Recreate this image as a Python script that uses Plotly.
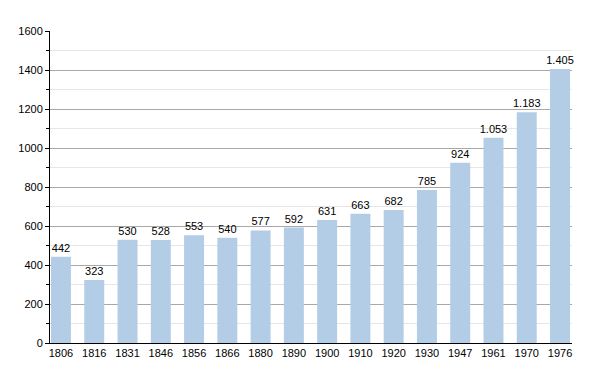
import plotly.graph_objects as go

years = ["1806", "1816", "1831", "1846", "1856", "1866", "1880", "1890",
         "1900", "1910", "1920", "1930", "1947", "1961", "1970", "1976"]
population = [442, 323, 530, 528, 553, 540, 577, 592,
              631, 663, 682, 785, 924, 1053, 1183, 1405]

fig = go.Figure(go.Bar(
    x=years, y=population,
    marker=dict(color="#b3cde6", line=dict(width=0)),
    width=0.6,
    texttemplate="%{y:,d}", textposition="outside",
    textfont=dict(family="Liberation Sans, Arial, sans-serif", size=11, color="#000"),
    cliponaxis=False,
    constraintext="none",
))

fig.update_layout(
    width=592, height=365,
    margin=dict(l=42, r=28, t=23, b=30, autoexpand=False),
    plot_bgcolor="white", paper_bgcolor="white",
    separators=",.",
    uniformtext=dict(minsize=11, mode="show"),
    font=dict(family="Liberation Sans, Arial, sans-serif", size=11, color="#000"),
    showlegend=False,
    xaxis=dict(type="category", range=[-0.33, 15.36], showgrid=False,
               showline=True, linecolor="#000", linewidth=1, ticks="",
               automargin=False, tickfont=dict(size=11)),
    yaxis=dict(range=[0, 1600], dtick=200, tickformat="d",
               showgrid=True, gridcolor="#a8a8a8", gridwidth=1,
               showline=True, linecolor="#000", linewidth=1,
               ticks="outside", ticklen=4, tickcolor="#000",
               zeroline=False, automargin=False,
               minor=dict(dtick=100, showgrid=True, gridcolor="#e6e6e6",
                          ticks="outside", ticklen=3, tickcolor="#000"),
               tickfont=dict(size=11)),
)

fig.write_html("out.html")
